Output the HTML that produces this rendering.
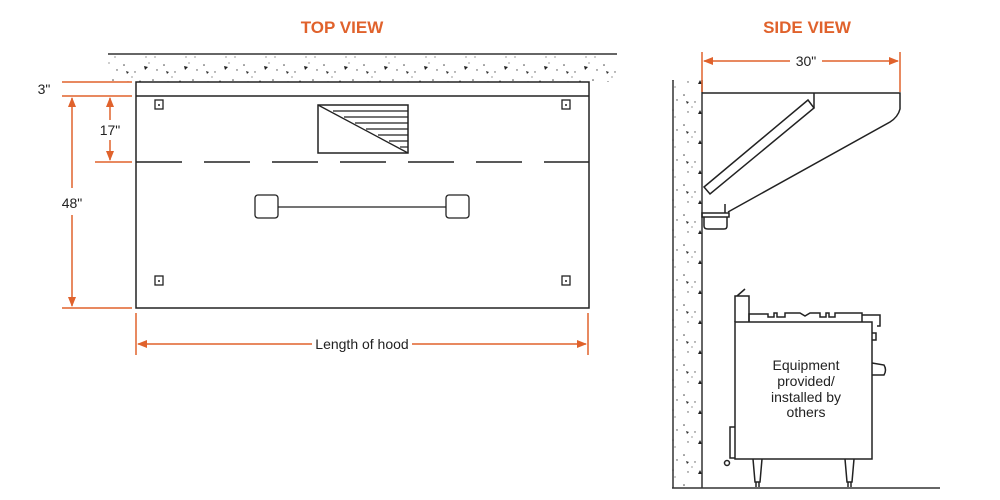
<!DOCTYPE html>
<html><head><meta charset="utf-8"><style>
html,body{margin:0;padding:0;background:#fff;}
svg{display:block;}
text{font-family:"Liberation Sans",Arial,sans-serif;}
</style></head><body>
<svg width="1000" height="500" viewBox="0 0 1000 500" xmlns="http://www.w3.org/2000/svg">
<defs>
<pattern id="conc" width="40" height="30" patternUnits="userSpaceOnUse">
<circle cx="4" cy="5" r="0.8" fill="#444"/><circle cx="15" cy="12" r="0.7" fill="#555"/>
<path d="M24 6 l4 1 -3 3z" fill="#222"/><circle cx="33" cy="20" r="0.8" fill="#444"/>
<circle cx="8" cy="22" r="0.7" fill="#555"/><path d="M18 24 l4 0 -2 -4z" fill="#222"/>
<circle cx="29" cy="3" r="0.6" fill="#555"/><circle cx="37" cy="10" r="0.7" fill="#444"/>
<circle cx="12" cy="17" r="0.6" fill="#555"/><circle cx="26" cy="27" r="0.6" fill="#555"/>
<path d="M6 11 l3 1 -2 2z" fill="#333"/><circle cx="35" cy="27" r="0.6" fill="#555"/>
</pattern>
<marker id="ar" markerWidth="10" markerHeight="10" refX="9" refY="5" orient="auto-start-reverse" markerUnits="userSpaceOnUse"><path d="M0 1 L10 5 L0 9 z" fill="#e0622c"/></marker>
</defs>
<text x="342" y="33" text-anchor="middle" font-size="17" font-weight="bold" fill="#e0622c">TOP VIEW</text>
<text x="807" y="33" text-anchor="middle" font-size="17" font-weight="bold" fill="#e0622c">SIDE VIEW</text>

<rect x="108" y="54" width="509" height="28" fill="url(#conc)"/>
<line x1="108" y1="54" x2="617" y2="54" stroke="#333" stroke-width="1.5"/>
<rect x="136" y="82" width="453" height="226" fill="none" stroke="#222" stroke-width="1.5"/>
<line x1="136" y1="96" x2="589" y2="96" stroke="#222" stroke-width="1.5"/>
<line x1="136" y1="162" x2="589" y2="162" stroke="#222" stroke-width="1.5" stroke-dasharray="46,22"/>
<rect x="318" y="105" width="90" height="48" fill="none" stroke="#222" stroke-width="1.5"/>
<line x1="318" y1="105" x2="408" y2="153" stroke="#222" stroke-width="1.3"/>
<g stroke="#222" stroke-width="1.2">
<line x1="333" y1="111" x2="408" y2="111"/><line x1="344" y1="117" x2="408" y2="117"/>
<line x1="355" y1="123" x2="408" y2="123"/><line x1="366" y1="129" x2="408" y2="129"/>
<line x1="378" y1="135" x2="408" y2="135"/><line x1="389" y1="141" x2="408" y2="141"/>
<line x1="400" y1="147" x2="408" y2="147"/>
</g>
<g fill="none" stroke="#222" stroke-width="1.3">
<rect x="155" y="100" width="8" height="9"/><rect x="562" y="100" width="8" height="9"/>
<rect x="155" y="276" width="8" height="9"/><rect x="562" y="276" width="8" height="9"/>
<rect x="255" y="195" width="23" height="23" rx="3"/><rect x="446" y="195" width="23" height="23" rx="3"/>
<line x1="278" y1="207" x2="446" y2="207"/>
</g>
<g fill="#222"><circle cx="159" cy="105" r="1"/><circle cx="566" cy="105" r="1"/><circle cx="159" cy="281" r="1"/><circle cx="566" cy="281" r="1"/></g>

<g stroke="#e0622c" stroke-width="1.5" fill="none">
<line x1="62" y1="82" x2="132" y2="82"/><line x1="62" y1="96" x2="132" y2="96"/>
<line x1="95" y1="162" x2="132" y2="162"/><line x1="62" y1="308" x2="132" y2="308"/>
<line x1="72" y1="98" x2="72" y2="188" marker-start="url(#ar)"/>
<line x1="72" y1="215" x2="72" y2="306" marker-end="url(#ar)"/>
<line x1="110" y1="98" x2="110" y2="120" marker-start="url(#ar)"/>
<line x1="110" y1="140" x2="110" y2="160" marker-end="url(#ar)"/>
<line x1="136" y1="313" x2="136" y2="355"/><line x1="588" y1="313" x2="588" y2="355"/>
<line x1="138" y1="344" x2="312" y2="344" marker-start="url(#ar)"/>
<line x1="412" y1="344" x2="586" y2="344" marker-end="url(#ar)"/>
</g>
<g font-size="14" fill="#222" text-anchor="middle">
<text x="44" y="94">3"</text><text x="110" y="135">17"</text><text x="72" y="208">48"</text>
<text x="362" y="349">Length of hood</text>
</g>

<rect x="672" y="80" width="30" height="407" fill="url(#conc)"/>
<line x1="673" y1="80" x2="673" y2="488" stroke="#333" stroke-width="1.5"/>
<line x1="702" y1="80" x2="702" y2="488" stroke="#333" stroke-width="1.5"/>
<line x1="672" y1="488" x2="940" y2="488" stroke="#333" stroke-width="1.5"/>
<g fill="none" stroke="#222" stroke-width="1.5">
<path d="M702 93 L900 93 L900 109 Q898 117 890 122 L728 212"/>
<line x1="814" y1="93" x2="814" y2="108"/>
<path d="M808 100 L814 108 L710 194 L704 187 Z"/>
<rect x="702" y="213" width="27" height="4"/>
<path d="M704 217 L704 226 Q704 229 708 229 L724 229 Q727 229 727 226 L727 217"/>
<line x1="725" y1="204" x2="725" y2="213"/>
</g>
<g stroke="#e0622c" stroke-width="1.5" fill="none">
<line x1="702" y1="52" x2="702" y2="92"/><line x1="900" y1="52" x2="900" y2="92"/>
<line x1="704" y1="61" x2="790" y2="61" marker-start="url(#ar)"/>
<line x1="822" y1="61" x2="898" y2="61" marker-end="url(#ar)"/>
</g>
<text x="806" y="66" font-size="14" text-anchor="middle" fill="#222">30"</text>
<g fill="none" stroke="#222" stroke-width="1.5">
<rect x="735" y="322" width="137" height="137"/>
<path d="M735 322 L735 296 L749 296 L749 322"/><line x1="737" y1="296" x2="745" y2="289"/>
<path d="M749 322 L749 314 L768 314 L768 317 L774 317 L774 313 L777 313 L777 317 L785 317 L785 313 L800 313 L805 316 L810 313 L820 313 L820 317 L826 317 L826 313 L829 313 L829 317 L835 317 L835 313 L862 313 L862 322"/>
<path d="M862 315 L880 315 L880 326 L877 326"/>
<path d="M872 333 L876 333 L876 340 L872 340"/>
<path d="M872 363 L884 365 Q887 370 884 375 L872 375"/>
<path d="M735 427 L730 427 L730 458 L735 458"/>
<circle cx="727" cy="463" r="2.5"/>
<path d="M753 459 L755 482 L760 482 L762 459"/><line x1="756" y1="482" x2="756" y2="487"/><line x1="759" y1="482" x2="759" y2="487"/>
<path d="M845 459 L847 482 L852 482 L854 459"/><line x1="848" y1="482" x2="848" y2="487"/><line x1="851" y1="482" x2="851" y2="487"/>
</g>
<g font-size="14" fill="#222" text-anchor="middle">
<text x="806" y="370">Equipment</text><text x="806" y="386">provided/</text>
<text x="806" y="402">installed by</text><text x="806" y="417">others</text>
</g>
</svg>
</body></html>
